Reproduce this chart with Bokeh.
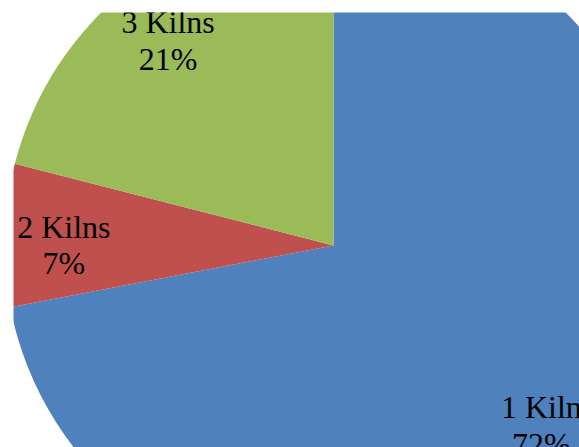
import math

from bokeh.core.properties import value
from bokeh.embed import file_html
from bokeh.models import ColumnDataSource, Range1d
from bokeh.plotting import figure
from bokeh.resources import INLINE

# Kiln count shares (percent)
categories = ["1 Kiln", "2 Kilns", "3 Kilns"]
shares = [72, 7, 21]
colors = ["#4F81BD", "#C0504D", "#9BBB59"]

RADIUS = 329
LABEL_R = 0.82 * RADIUS

total = float(sum(shares))
starts, ends, lx, ly, labels = [], [], [], [], []
cum = 0.0
for name, v in zip(categories, shares):
    a0 = math.pi / 2 - 2 * math.pi * cum / total
    cum += v
    a1 = math.pi / 2 - 2 * math.pi * cum / total
    starts.append(a0)
    ends.append(a1)
    mid = (a0 + a1) / 2
    lx.append(LABEL_R * math.cos(mid))
    ly.append(LABEL_R * math.sin(mid))
    labels.append(f"{name}\n{v}%")

src = ColumnDataSource(dict(start=starts, end=ends, color=colors,
                            lx=lx, ly=ly, label=labels))

p = figure(width=579, height=447, output_backend="svg", toolbar_location=None,
           x_range=Range1d(-320, 246), y_range=Range1d(-202, 233),
           min_border_left=13, min_border_top=12,
           min_border_right=0, min_border_bottom=0)
p.axis.visible = False
p.grid.visible = False
p.outline_line_color = None
p.background_fill_color = "white"
p.border_fill_color = "white"

p.wedge(x=0, y=0, radius=RADIUS, start_angle="start", end_angle="end",
        direction="clock", fill_color="color", line_color=None, source=src)

p.text(x="lx", y="ly", text="label", source=src,
       text_font=value("Liberation Serif"), text_font_size="32px",
       text_color="#000000", text_align="center", text_baseline="middle",
       text_line_height=1.02, y_offset=8)

open("out.html", "w").write(file_html(p, INLINE))
